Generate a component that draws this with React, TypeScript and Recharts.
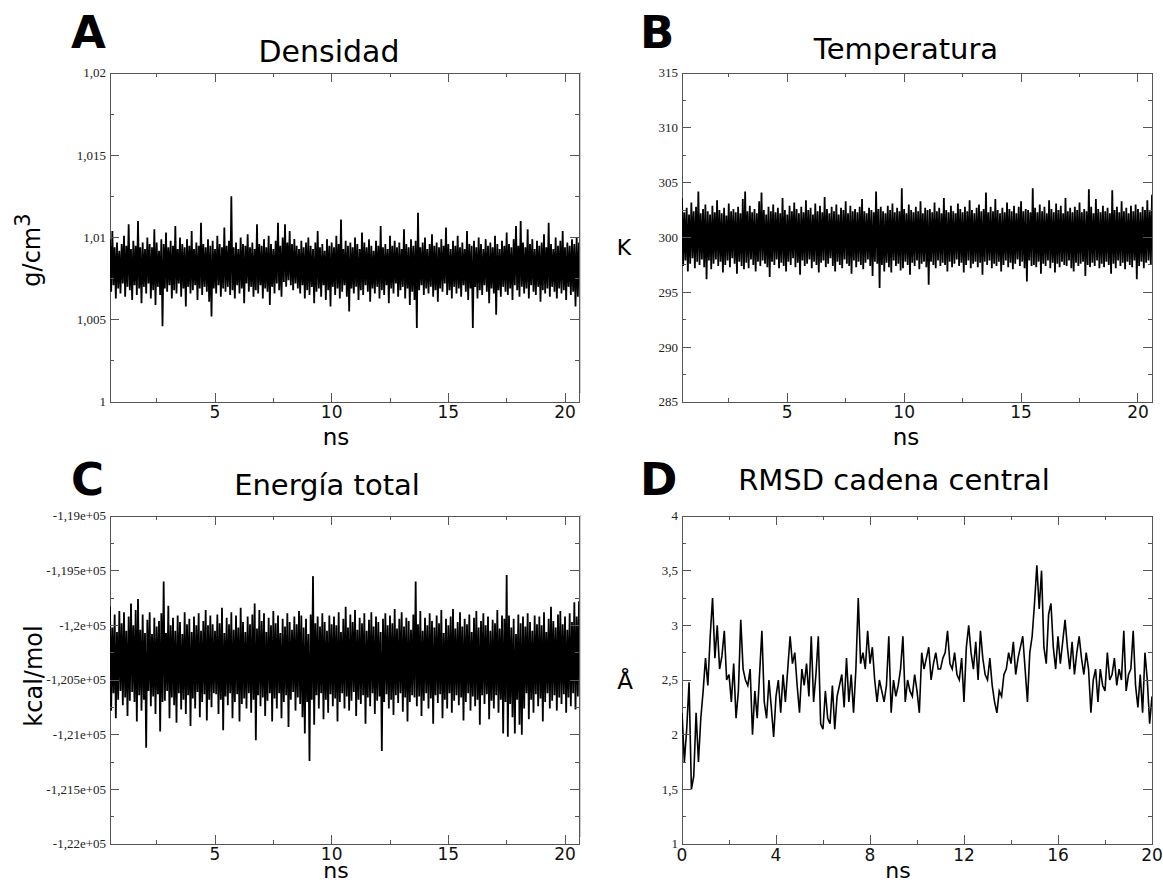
import { LineChart, Line, XAxis, YAxis, ReferenceArea } from 'recharts';

// sampling: noisy panels every 0.05 ns from 0.5 ns, RMSD every 0.1 ns from 0
const T0_NOISE = 0.5;
const DT_NOISE = 0.05;
const T0_RMSD = 0;
const DT_RMSD = 0.1;

// A - density (g/cm3)
const densidad = [
  1.0099, 1.0067, 1.0104, 1.0071, 1.0094, 1.0063, 1.0097, 1.0069, 1.0092, 1.0066,
  1.0096, 1.0072, 1.0101, 1.0064, 1.0095, 1.0070, 1.0108, 1.0068, 1.0093, 1.0062,
  1.0098, 1.0071, 1.0095, 1.0065, 1.0110, 1.0069, 1.0094, 1.0060, 1.0097, 1.0070,
  1.0093, 1.0066, 1.0100, 1.0072, 1.0096, 1.0063, 1.0094, 1.0068, 1.0105, 1.0059,
  1.0097, 1.0070, 1.0092, 1.0065, 1.0099, 1.0046, 1.0096, 1.0069, 1.0103, 1.0067,
  1.0094, 1.0071, 1.0098, 1.0063, 1.0095, 1.0068, 1.0107, 1.0066, 1.0093, 1.0072,
  1.0100, 1.0064, 1.0096, 1.0069, 1.0094, 1.0058, 1.0099, 1.0070, 1.0095, 1.0066,
  1.0104, 1.0068, 1.0093, 1.0071, 1.0097, 1.0062, 1.0095, 1.0069, 1.0109, 1.0065,
  1.0096, 1.0070, 1.0094, 1.0067, 1.0099, 1.0061, 1.0095, 1.0052, 1.0098, 1.0069,
  1.0093, 1.0066, 1.0101, 1.0071, 1.0096, 1.0064, 1.0094, 1.0069, 1.0106, 1.0067,
  1.0095, 1.0070, 1.0098, 1.0065, 1.0125, 1.0068, 1.0094, 1.0063, 1.0097, 1.0071,
  1.0093, 1.0066, 1.0100, 1.0069, 1.0096, 1.0060, 1.0095, 1.0072, 1.0102, 1.0067,
  1.0094, 1.0070, 1.0097, 1.0064, 1.0093, 1.0068, 1.0108, 1.0066, 1.0096, 1.0071,
  1.0095, 1.0063, 1.0099, 1.0069, 1.0094, 1.0067, 1.0101, 1.0059, 1.0096, 1.0070,
  1.0093, 1.0066, 1.0098, 1.0072, 1.0109, 1.0068, 1.0095, 1.0064, 1.0100, 1.0073,
  1.0108, 1.0070, 1.0097, 1.0074, 1.0104, 1.0071, 1.0096, 1.0068, 1.0099, 1.0072,
  1.0095, 1.0069, 1.0093, 1.0066, 1.0098, 1.0071, 1.0094, 1.0063, 1.0097, 1.0068,
  1.0100, 1.0065, 1.0095, 1.0070, 1.0093, 1.0060, 1.0097, 1.0067, 1.0104, 1.0069,
  1.0094, 1.0064, 1.0096, 1.0071, 1.0092, 1.0062, 1.0099, 1.0068, 1.0095, 1.0058,
  1.0097, 1.0070, 1.0094, 1.0065, 1.0101, 1.0069, 1.0096, 1.0063, 1.0111, 1.0067,
  1.0093, 1.0071, 1.0098, 1.0064, 1.0095, 1.0055, 1.0097, 1.0069, 1.0094, 1.0066,
  1.0100, 1.0070, 1.0096, 1.0062, 1.0093, 1.0068, 1.0103, 1.0065, 1.0097, 1.0071,
  1.0094, 1.0067, 1.0099, 1.0061, 1.0095, 1.0069, 1.0092, 1.0066, 1.0098, 1.0070,
  1.0095, 1.0063, 1.0107, 1.0068, 1.0094, 1.0065, 1.0096, 1.0071, 1.0093, 1.0060,
  1.0101, 1.0069, 1.0095, 1.0066, 1.0098, 1.0072, 1.0094, 1.0064, 1.0097, 1.0068,
  1.0093, 1.0070, 1.0105, 1.0063, 1.0096, 1.0069, 1.0094, 1.0059, 1.0099, 1.0067,
  1.0095, 1.0062, 1.0098, 1.0045, 1.0115, 1.0068, 1.0094, 1.0071, 1.0097, 1.0065,
  1.0100, 1.0069, 1.0093, 1.0066, 1.0096, 1.0070, 1.0102, 1.0064, 1.0095, 1.0068,
  1.0097, 1.0061, 1.0094, 1.0069, 1.0099, 1.0067, 1.0095, 1.0072, 1.0106, 1.0065,
  1.0096, 1.0068, 1.0093, 1.0063, 1.0098, 1.0070, 1.0095, 1.0066, 1.0101, 1.0069,
  1.0094, 1.0064, 1.0097, 1.0071, 1.0093, 1.0067, 1.0104, 1.0062, 1.0096, 1.0069,
  1.0095, 1.0045, 1.0098, 1.0070, 1.0094, 1.0063, 1.0100, 1.0068, 1.0096, 1.0065,
  1.0093, 1.0071, 1.0099, 1.0067, 1.0095, 1.0060, 1.0097, 1.0069, 1.0094, 1.0066,
  1.0101, 1.0053, 1.0096, 1.0068, 1.0093, 1.0064, 1.0098, 1.0070, 1.0095, 1.0067,
  1.0103, 1.0065, 1.0096, 1.0069, 1.0094, 1.0062, 1.0099, 1.0071, 1.0107, 1.0068,
  1.0095, 1.0064, 1.0110, 1.0070, 1.0097, 1.0066, 1.0094, 1.0069, 1.0105, 1.0063,
  1.0096, 1.0071, 1.0099, 1.0067, 1.0093, 1.0065, 1.0098, 1.0070, 1.0095, 1.0061,
  1.0097, 1.0068, 1.0102, 1.0066, 1.0094, 1.0069, 1.0109, 1.0064, 1.0096, 1.0070,
  1.0093, 1.0067, 1.0100, 1.0063, 1.0095, 1.0069, 1.0098, 1.0066, 1.0104, 1.0068,
  1.0094, 1.0062, 1.0097, 1.0070, 1.0095, 1.0065, 1.0099, 1.0067, 1.0096, 1.0058,
  1.0100, 1.0064, 1.0097,
];

// B - temperature (K)
const temperatura = [
  303.6, 297.4, 302.3, 297.9, 302.7, 296.9, 302.1, 297.6, 303.2, 298.1,
  302.4, 297.2, 302.8, 297.8, 304.2, 297.5, 302.2, 298.0, 302.6, 297.3,
  303.0, 296.2, 302.4, 297.9, 302.1, 297.1, 302.9, 297.6, 302.3, 298.0,
  303.4, 297.4, 302.5, 297.8, 302.2, 296.8, 302.7, 297.5, 302.0, 297.9,
  303.1, 297.3, 302.4, 298.1, 302.6, 297.6, 302.3, 296.7, 302.8, 297.8,
  302.2, 297.4, 303.5, 297.1, 304.2, 297.7, 302.4, 297.2, 302.9, 298.0,
  302.3, 297.5, 302.6, 296.9, 302.2, 297.8, 303.3, 297.4, 304.1, 297.9,
  302.5, 297.6, 302.1, 297.3, 302.8, 296.4, 302.4, 297.8, 303.0, 297.5,
  302.3, 298.0, 302.7, 297.2, 302.2, 297.7, 303.6, 297.4, 302.5, 296.9,
  302.1, 297.8, 302.9, 297.5, 302.4, 298.1, 303.2, 297.3, 302.6, 297.7,
  302.2, 296.6, 302.8, 297.9, 302.3, 297.4, 303.4, 297.6, 302.5, 298.0,
  302.7, 297.2, 302.1, 297.8, 303.1, 297.5, 302.4, 296.8, 302.9, 297.7,
  302.3, 297.9, 303.7, 297.3, 302.6, 297.6, 302.2, 298.1, 302.8, 297.4,
  302.4, 296.9, 303.0, 297.8, 302.1, 297.5, 302.7, 297.2, 302.5, 298.0,
  303.3, 297.6, 302.2, 297.4, 302.9, 296.7, 302.4, 297.9, 302.6, 297.3,
  302.3, 297.8, 302.8, 297.5, 303.5, 297.1, 302.4, 297.7, 302.2, 298.0,
  302.7, 297.4, 302.5, 296.5, 302.3, 297.8, 304.2, 297.6, 302.6, 295.4,
  302.8, 297.5, 302.4, 296.9, 302.2, 297.7, 302.9, 297.3, 302.5, 296.8,
  303.1, 297.9, 302.3, 297.4, 302.7, 297.6, 302.4, 297.0, 304.5, 297.2,
  302.6, 297.8, 302.2, 297.5, 303.0, 296.6, 302.5, 297.7, 302.3, 297.4,
  302.8, 297.9, 302.4, 297.1, 303.3, 297.6, 302.2, 297.8, 302.7, 297.3,
  302.5, 295.7, 302.6, 297.8, 302.3, 297.5, 303.2, 297.2, 302.4, 297.9,
  302.7, 297.4, 302.2, 297.7, 303.6, 297.5, 302.5, 296.9, 302.3, 297.8,
  302.9, 297.3, 302.4, 297.6, 302.2, 298.0, 303.1, 297.4, 302.6, 297.7,
  302.3, 296.8, 302.8, 297.5, 302.4, 297.9, 303.4, 297.2, 302.5, 297.6,
  302.2, 297.8, 302.7, 297.3, 303.0, 297.7, 302.4, 296.6, 302.6, 297.8,
  304.1, 297.5, 302.3, 297.9, 302.8, 297.2, 302.4, 297.6, 303.5, 297.4,
  302.5, 297.8, 302.2, 296.9, 302.7, 297.5, 302.3, 297.9, 303.2, 297.3,
  302.6, 297.7, 302.4, 297.1, 302.9, 297.6, 302.2, 298.0, 302.8, 297.4,
  303.3, 297.8, 302.4, 297.2, 302.6, 296.0, 302.5, 297.9, 302.3, 297.4,
  304.5, 297.5, 302.7, 297.3, 302.3, 297.8, 303.0, 296.7, 302.4, 297.6,
  302.8, 297.4, 302.2, 297.9, 303.4, 297.2, 302.6, 297.7, 302.3, 296.8,
  303.1, 297.6, 302.5, 297.3, 302.9, 297.8, 302.2, 297.5, 303.6, 297.4,
  302.4, 297.9, 302.7, 297.2, 302.3, 296.9, 302.8, 297.7, 302.5, 297.4,
  303.2, 297.6, 302.3, 297.8, 302.6, 296.5, 302.4, 297.5, 304.4, 297.3,
  302.8, 297.7, 302.2, 297.4, 303.5, 297.9, 302.6, 297.2, 302.3, 297.6,
  302.9, 297.3, 302.4, 297.8, 302.7, 297.5, 302.2, 296.7, 304.3, 297.6,
  302.5, 297.2, 302.8, 297.9, 302.3, 297.4, 303.3, 297.7, 302.4, 297.1,
  302.7, 297.8, 302.2, 297.5, 302.9, 297.3, 302.4, 297.9, 303.0, 296.2,
  302.6, 297.4, 302.3, 297.8, 302.8, 297.2, 302.5, 297.7, 303.4, 297.9,
  302.4, 297.5, 303.9,
];

// C - total energy (kcal/mol)
const energia = [
  -119830, -120780, -120020, -120620, -119900, -120850, -120060, -120680, -119870, -120600,
  -119980, -120730, -119880, -120660, -120050, -120830, -119920, -120690, -119800, -120610,
  -120000, -120700, -119860, -120880, -119760, -120640, -120040, -120780, -119900, -120680,
  -120070, -121120, -119950, -120600, -119880, -120740, -120080, -120650, -119930, -120810,
  -120010, -120630, -119960, -120970, -119890, -120700, -119600, -120690, -120070, -120600,
  -119820, -120850, -120000, -120660, -119930, -120730, -120050, -120890, -119910, -120620,
  -119970, -120770, -120080, -120680, -119880, -120810, -119990, -120640, -119940, -120920,
  -120060, -120670, -119920, -120760, -120000, -120610, -119890, -120840, -120050, -120700,
  -119960, -120630, -119860, -120870, -120000, -120680, -119910, -120750, -119990, -120620,
  -120050, -120630, -119900, -120810, -119980, -120680, -119840, -120960, -120070, -120650,
  -119930, -120730, -119990, -120620, -119880, -120850, -120040, -120700, -119910, -120630,
  -120020, -120880, -119840, -120720, -119970, -120670, -120060, -120760, -119920, -120620,
  -119990, -120800, -119900, -120680, -119800, -121050, -120030, -120640, -119860, -120740,
  -119960, -120660, -119890, -120830, -120060, -120690, -119930, -120620, -120000, -120880,
  -119870, -120670, -119980, -120760, -119910, -120620, -120070, -120850, -119940, -120700,
  -120010, -120640, -119890, -120930, -119970, -120680, -120040, -120610, -119920, -120780,
  -119990, -120660, -119870, -120720, -119910, -120840, -120020, -120990, -119940, -120700,
  -120080, -121240, -119900, -120680, -119550, -120910, -119980, -120640, -119920, -120760,
  -120010, -120620, -119890, -120860, -119970, -120680, -120050, -120800, -119910, -120630,
  -119990, -120740, -119920, -120670, -120000, -120880, -119880, -120700, -120060, -120620,
  -119940, -120760, -119830, -120650, -120020, -120780, -119900, -120690, -119970, -120610,
  -119860, -120830, -120040, -120680, -119930, -120720, -119980, -120640, -119890, -120900,
  -120050, -120660, -119950, -120740, -119880, -120620, -120010, -120810, -119920, -120690,
  -119970, -120650, -120060, -121150, -119940, -120700, -119890, -120630, -120000, -120760,
  -119910, -120680, -119980, -120820, -119850, -120640, -120030, -120710, -119940, -120620,
  -119880, -120790, -120010, -120660, -119930, -120880, -119960, -120700, -120040, -120640,
  -119900, -120660, -119600, -120740, -119990, -120650, -119870, -120830, -120050, -120690,
  -119930, -120620, -120000, -120760, -119890, -120670, -119960, -120900, -120020, -120640,
  -119910, -120710, -119980, -120630, -119860, -120850, -120070, -120680, -119940, -120760,
  -120000, -120620, -119920, -120800, -119850, -120690, -120030, -120640, -119970, -120730,
  -119880, -120660, -120010, -120870, -119940, -120700, -119990, -120620, -119900, -120780,
  -120060, -120650, -119930, -120740, -119870, -120680, -120020, -120910, -119960, -120640,
  -119890, -120720, -120000, -120630, -119920, -120860, -120050, -120690, -119950, -120760,
  -119980, -120640, -119860, -120800, -120030, -120680, -119910, -120990, -119940, -120700,
  -119540, -121020, -119910, -120720, -120020, -120840, -119940, -120990, -120080, -120680,
  -119900, -120910, -119980, -121000, -119920, -120760, -120010, -120620, -119890, -120860,
  -119970, -120680, -120050, -120800, -119910, -120630, -119990, -120740, -119920, -120670,
  -120000, -120880, -119880, -120700, -120060, -120620, -119940, -120760, -119830, -120690,
  -119960, -120640, -120020, -120780, -119900, -120660, -119870, -120720, -119990, -120630,
  -119920, -120800, -120040, -120660, -119890, -120740, -119970, -120620, -119790, -120770,
  -119920, -120650, -119780,
];

// D - backbone RMSD (Å)
const rmsd = [
  2.20, 1.75, 2.05, 2.48, 1.50, 1.62, 2.20, 1.75, 2.15, 2.40,
  2.70, 2.45, 2.90, 3.25, 2.70, 3.00, 2.60, 2.72, 2.95, 2.50,
  2.55, 2.30, 2.65, 2.15, 2.40, 3.05, 2.60, 2.50, 2.45, 2.60,
  2.00, 2.40, 2.15, 2.55, 2.95, 2.30, 2.15, 2.50, 2.25, 1.98,
  2.35, 2.50, 2.20, 2.55, 2.30, 2.60, 2.90, 2.65, 2.75, 2.45,
  2.20, 2.60, 2.45, 2.65, 2.35, 2.90, 2.30, 2.55, 2.90, 2.10,
  2.05, 2.40, 2.15, 2.10, 2.45, 2.05, 2.35, 2.45, 2.55, 2.25,
  2.70, 2.30, 2.55, 2.20, 2.60, 3.25, 2.65, 2.75, 2.60, 2.95,
  2.65, 2.80, 2.50, 2.30, 2.50, 2.40, 2.30, 2.45, 2.90, 2.20,
  2.50, 2.35, 2.45, 2.60, 2.90, 2.30, 2.50, 2.40, 2.35, 2.55,
  2.40, 2.20, 2.75, 2.60, 2.70, 2.80, 2.50, 2.65, 2.75, 2.60,
  2.60, 2.70, 2.75, 2.95, 2.65, 2.60, 2.75, 2.55, 2.50, 2.70,
  2.30, 2.80, 3.00, 2.75, 2.60, 2.85, 2.50, 2.95, 2.70, 2.55,
  2.50, 2.70, 2.45, 2.30, 2.20, 2.40, 2.35, 2.55, 2.60, 2.75,
  2.65, 2.85, 2.55, 2.70, 2.80, 2.90, 2.60, 2.30, 2.75, 2.90,
  3.20, 3.55, 3.15, 3.50, 2.80, 2.65, 3.10, 3.20, 2.80, 2.60,
  2.90, 2.65, 2.85, 3.05, 2.80, 2.60, 2.85, 2.55, 2.75, 2.90,
  2.70, 2.55, 2.75, 2.60, 2.20, 2.50, 2.60, 2.30, 2.60, 2.45,
  2.40, 2.75, 2.50, 2.55, 2.70, 2.45, 2.60, 2.50, 2.95, 2.40,
  2.55, 2.60, 2.95, 2.45, 2.25, 2.55, 2.20, 2.75, 2.50, 2.10,
  2.35,
];

// ticks
const xMajorNs = [5, 10, 15, 20];
const xMinorNs = [2.5, 7.5, 12.5, 17.5];
const xMajorRmsd = [0, 4, 8, 12, 16, 20];
const xMinorRmsd = [2, 6, 10, 14, 18];

const yMajorA = [1, 1.005, 1.01, 1.015, 1.02];
const yMinorA = [1.0025, 1.0075, 1.0125, 1.0175];
const yMajorB = [285, 290, 295, 300, 305, 310, 315];
const yMinorB = [287.5, 292.5, 297.5, 302.5, 307.5, 312.5];
const yMajorC = [-122000, -121500, -121000, -120500, -120000, -119500, -119000];
const yMinorC = [-121750, -121250, -120750, -120250, -119750, -119250];
const yMajorD = [1, 1.5, 2, 2.5, 3, 3.5, 4];
const yMinorD = [1.25, 1.75, 2.25, 2.75, 3.25, 3.75];

const FRAME = '#555';
const SANS = 'DejaVu Sans, sans-serif';
const SERIF = 'Liberation Serif, serif';

const comma = (v: number) => String(v).replace('.', ',');
const sci = (v: number) => `${comma(Number((v / 1e5).toFixed(4)))}e+05`;

const isIn = (arr: number[], v: number) => arr.some((m) => Math.abs(m - v) < 1e-9);

type PanelProps = {
  left: number;
  top: number;
  w: number;
  h: number;
  values: number[];
  t0: number;
  dt: number;
  xDomain: [number, number];
  xMajor: number[];
  xMinor: number[];
  yDomain: [number, number];
  yMajor: number[];
  yMinor: number[];
  yFmt: (v: number) => string;
  xLabelDy: number;
  strokeWidth: number;
};

const Panel = ({ left, top, w, h, values, t0, dt, xDomain, xMajor, xMinor, yDomain, yMajor, yMinor, yFmt, xLabelDy, strokeWidth }: PanelProps) => {
  const data = values.map((v, i) => ({ t: t0 + i * dt, v }));
  const yTicks = [...yMajor, ...yMinor].sort((a, b) => a - b);
  const xTicks = [...xMajor, ...xMinor].sort((a, b) => a - b);

  // ticks point inwards and are repeated on the opposite side of the box
  const yTick = (p: any) => {
    const { x, y, payload } = p;
    const major = isIn(yMajor, payload.value);
    const len = major ? 9 : 4;
    return (
      <g>
        <line x1={x} y1={y} x2={x + len} y2={y} stroke={FRAME} shapeRendering="crispEdges" />
        <line x1={x + w - len} y1={y} x2={x + w} y2={y} stroke={FRAME} shapeRendering="crispEdges" />
        {major && (
          <text x={x - 4} y={y} dy="0.34em" textAnchor="end" fontFamily={SERIF} fontSize={13} fill="#222">
            {yFmt(payload.value)}
          </text>
        )}
      </g>
    );
  };

  const xTick = (p: any) => {
    const { x, y, payload } = p;
    const major = isIn(xMajor, payload.value);
    const len = major ? 9 : 4;
    return (
      <g>
        <line x1={x} y1={y} x2={x} y2={y - len} stroke={FRAME} shapeRendering="crispEdges" />
        <line x1={x} y1={y - h} x2={x} y2={y - h + len} stroke={FRAME} shapeRendering="crispEdges" />
        {major && (
          <text x={x} y={y + xLabelDy} textAnchor="middle" fontFamily={SANS} fontSize={17} fill="#111">
            {payload.value}
          </text>
        )}
      </g>
    );
  };

  return (
    <div style={{ position: 'absolute', left: left - 100, top: top - 10 }}>
      <LineChart width={w + 110} height={h + 50} data={data} margin={{ top: 10, right: 10, left: 0, bottom: 0 }}>
        <XAxis
          dataKey="t"
          type="number"
          domain={xDomain}
          allowDataOverflow
          ticks={xTicks}
          interval={0}
          height={40}
          axisLine={false}
          tickLine={false}
          tickSize={0}
          tickMargin={0}
          tick={xTick}
        />
        <YAxis
          type="number"
          domain={yDomain}
          allowDataOverflow
          ticks={yTicks}
          interval={0}
          width={100}
          axisLine={false}
          tickLine={false}
          tickSize={0}
          tickMargin={0}
          tick={yTick}
        />
        <ReferenceArea
          x1={xDomain[0]}
          x2={xDomain[1]}
          y1={yDomain[0]}
          y2={yDomain[1]}
          fill="none"
          stroke={FRAME}
          strokeWidth={1}
          shapeRendering="crispEdges"
        />
        <Line
          type="linear"
          dataKey="v"
          stroke="#000"
          strokeWidth={strokeWidth}
          dot={false}
          isAnimationActive={false}
        />
      </LineChart>
    </div>
  );
};

const App = () => {
  return (
    <div style={{ position: 'absolute', left: 0, top: 0, width: 1163, height: 883, background: '#fff', overflow: 'hidden' }}>
      <Panel
        left={110} top={73} w={469} h={329}
        values={densidad} t0={T0_NOISE} dt={DT_NOISE}
        xDomain={[0.5, 20.6]} xMajor={xMajorNs} xMinor={xMinorNs}
        yDomain={[1, 1.02]} yMajor={yMajorA} yMinor={yMinorA} yFmt={comma}
        xLabelDy={16} strokeWidth={1.8}
      />
      <Panel
        left={682} top={73} w={470} h={329}
        values={temperatura} t0={T0_NOISE} dt={DT_NOISE}
        xDomain={[0.5, 20.6]} xMajor={xMajorNs} xMinor={xMinorNs}
        yDomain={[285, 315]} yMajor={yMajorB} yMinor={yMinorB} yFmt={(v) => String(v)}
        xLabelDy={16} strokeWidth={1.8}
      />
      <Panel
        left={110} top={516} w={469} h={328}
        values={energia} t0={T0_NOISE} dt={DT_NOISE}
        xDomain={[0.5, 20.6]} xMajor={xMajorNs} xMinor={xMinorNs}
        yDomain={[-122000, -119000]} yMajor={yMajorC} yMinor={yMinorC} yFmt={sci}
        xLabelDy={16} strokeWidth={1.8}
      />
      <Panel
        left={682} top={516} w={470} h={328}
        values={rmsd} t0={T0_RMSD} dt={DT_RMSD}
        xDomain={[0, 20]} xMajor={xMajorRmsd} xMinor={xMinorRmsd}
        yDomain={[1, 4]} yMajor={yMajorD} yMinor={yMinorD} yFmt={comma}
        xLabelDy={17} strokeWidth={1.6}
      />

      <div style={{ position: 'absolute', left: 580, top: 72, width: 1, height: 321, background: '#ccc' }} />
      <div style={{ position: 'absolute', left: 580, top: 515, width: 1, height: 322, background: '#ccc' }} />

      <svg width={1163} height={883} style={{ position: 'absolute', left: 0, top: 0, pointerEvents: 'none' }}>
        <g fontFamily={SANS} fill="#000">
          <text x={71} y={48} fontSize={45} fontWeight="bold">A</text>
          <text x={640} y={48} fontSize={45} fontWeight="bold">B</text>
          <text x={71} y={495} fontSize={45} fontWeight="bold">C</text>
          <text x={640} y={495} fontSize={45} fontWeight="bold">D</text>

          <text x={329} y={62} fontSize={30} textAnchor="middle">Densidad</text>
          <text x={906} y={59} fontSize={29} textAnchor="middle">Temperatura</text>
          <text x={327} y={495} fontSize={29} textAnchor="middle">Energía total</text>
          <text x={894} y={490} fontSize={29} textAnchor="middle">RMSD cadena central</text>

          <text x={336} y={445} fontSize={23} textAnchor="middle">ns</text>
          <text x={906} y={445} fontSize={23} textAnchor="middle">ns</text>
          <text x={336} y={878} fontSize={22} textAnchor="middle">ns</text>
          <text x={898} y={878} fontSize={22} textAnchor="middle">ns</text>

          <text transform="translate(40,250) rotate(-90)" fontSize={24} textAnchor="middle">
            g/cm<tspan dy={-10} fontSize={21}>3</tspan>
          </text>
          <text x={624} y={255} fontSize={22} textAnchor="middle">K</text>
          <text transform="translate(42,676) rotate(-90)" fontSize={24} textAnchor="middle">kcal/mol</text>
          <text x={625} y={689} fontSize={23} textAnchor="middle">Å</text>
        </g>
      </svg>
    </div>
  );
};

export default App;
